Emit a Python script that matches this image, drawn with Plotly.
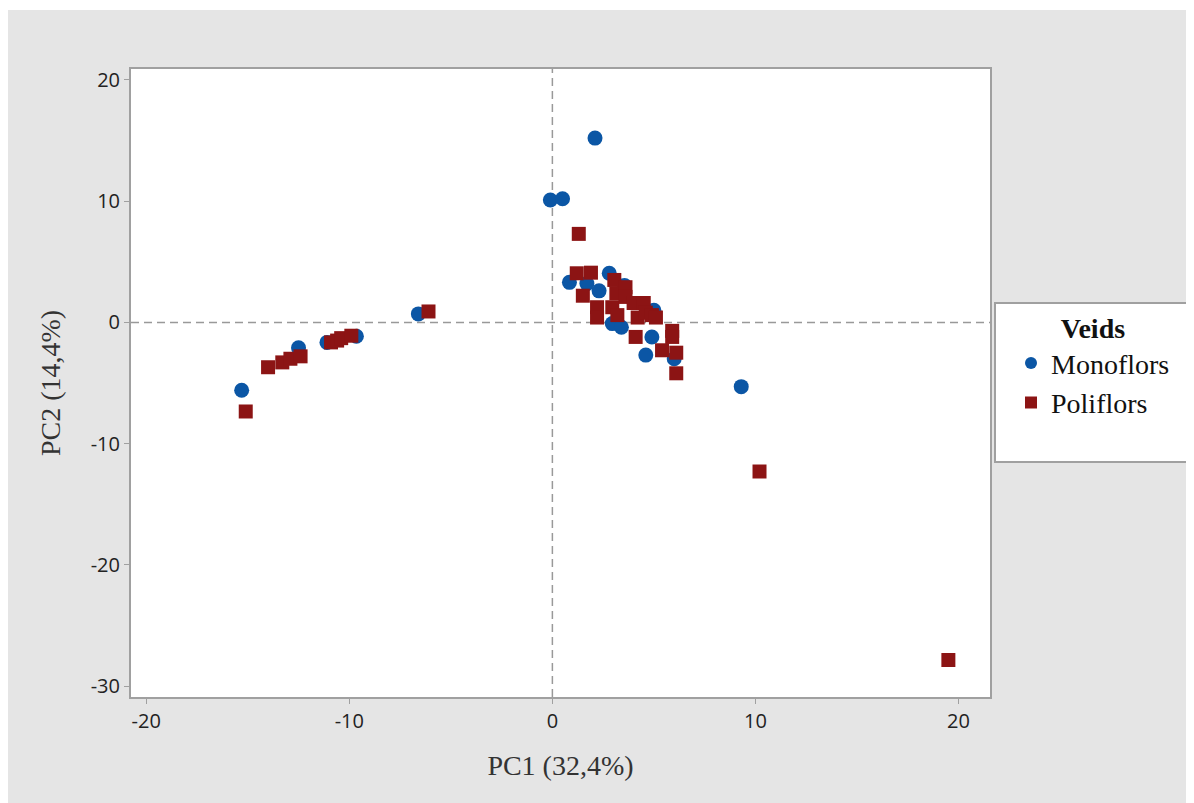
import plotly.graph_objects as go

# ---- data ----
groups = ["Monoflors", "Poliflors"]
mono_pc1 = [-15.3, -12.5, -11.1, -9.65, -6.6, -0.1, 0.5, 2.1, 0.84, 1.7, 2.8, 2.3,
            3.55, 2.95, 3.4, 5.0, 4.9, 4.6, 6.0, 9.3]
mono_pc2 = [-5.6, -2.1, -1.65, -1.15, 0.7, 10.1, 10.2, 15.2, 3.3, 3.2, 4.05, 2.6,
            3.05, -0.1, -0.4, 1.0, -1.2, -2.7, -3.0, -5.3]
poli_pc1 = [-15.1, -14.0, -13.3, -12.9, -12.4, -10.9, -10.6, -10.4, -9.9, -6.1,
            1.3, 1.2, 1.9, 1.5, 2.2, 2.2, 3.05, 3.15, 2.95, 3.2, 3.6, 3.6, 4.0, 4.5,
            4.2, 4.6, 4.9, 5.1, 4.1, 5.9, 5.9, 5.4, 6.1, 6.1, 10.2, 19.5]
poli_pc2 = [-7.35, -3.7, -3.3, -3.0, -2.8, -1.65, -1.5, -1.3, -1.1, 0.9,
            7.3, 4.05, 4.1, 2.2, 1.25, 0.4, 3.5, 2.4, 1.25, 0.6, 2.9, 2.1, 1.6, 1.6,
            0.4, 0.8, 0.6, 0.4, -1.2, -0.7, -1.2, -2.3, -2.5, -4.2, -12.3, -27.85]
x_ticks = [-20, -10, 0, 10, 20]
x_tick_text = ["-20", "-10", "0", "10", "20"]
y_ticks = [-30, -20, -10, 0, 10, 20]
y_tick_text = ["-30", "-20", "-10", "0", "10", "20"]

OFF = 8  # page body margin
W, H = 1194 - OFF, 803 - OFF
L, T = 131 - OFF, 69 - OFF
R = W - (990 - OFF)
B = H - (697 - OFF)
pw, ph = W - L - R, H - T - B

def px(xpage):
    return (xpage - OFF - L) / pw

def py(ypage):
    return (H - B - (ypage - OFF)) / ph

BLUE = "#0b56a5"
RED = "#8c1414"
AXC = "#a0a0a0"
SERIF = "Liberation Serif, Times New Roman, serif"

fig = go.Figure()
fig.add_trace(go.Scatter(x=mono_pc1, y=mono_pc2, mode="markers", name=groups[0],
                         marker=dict(symbol="circle", size=15, color=BLUE)))
fig.add_trace(go.Scatter(x=poli_pc1, y=poli_pc2, mode="markers", name=groups[1],
                         marker=dict(symbol="square", size=14, color=RED)))

shapes = [
    dict(type="rect", xref="paper", yref="paper", x0=px(OFF), x1=px(1194), y0=py(803), y1=py(10),
         fillcolor="#e5e5e5", line=dict(width=0), layer="below"),
    dict(type="rect", xref="paper", yref="paper", x0=0, x1=1, y0=0, y1=1,
         fillcolor="white", line=dict(width=0), layer="below"),
    dict(type="rect", xref="paper", yref="paper", x0=px(995), x1=px(1187), y0=py(462), y1=py(303),
         fillcolor="white", line=dict(color=AXC, width=2), layer="below"),
    dict(type="line", xref="x", yref="paper", x0=0, x1=0, y0=0, y1=1,
         line=dict(color="#999999", width=1.5, dash="8px,5px"), layer="below"),
    dict(type="line", xref="paper", yref="y", x0=0, x1=1, y0=0, y1=0,
         line=dict(color="#999999", width=1.5, dash="8px,5px"), layer="below"),
]

tickfont = dict(family="Open Sans, Noto Sans, sans-serif", size=20, color="#222222")
titlefont = dict(family=SERIF, size=28, color="#333333")

fig.update_layout(
    width=W, height=H,
    margin=dict(l=L, r=R, t=T, b=B, pad=0),
    paper_bgcolor="white", plot_bgcolor="white",
    shapes=shapes,
    showlegend=True,
    legend=dict(
        title=dict(text="<b>Veids</b>", side="top center",
                   font=dict(family=SERIF, size=28, color="#111111")),
        font=dict(family=SERIF, size=28, color="#111111"),
        x=px(1011), y=py(302), xanchor="left", yanchor="top",
        bgcolor="rgba(0,0,0,0)", borderwidth=0, itemsizing="constant",
    ),
    xaxis=dict(range=[-20.75, 21.55], tickvals=x_ticks, ticktext=x_tick_text,
               ticks="outside", ticklen=5, tickcolor=AXC, showline=True, linecolor=AXC,
               linewidth=2, mirror=True, showgrid=False, zeroline=False, tickfont=tickfont,
               ticklabelstandoff=0,
               title=dict(text="PC1 (32,4%)", font=titlefont, standoff=22)),
    yaxis=dict(range=[-30.9, 20.9], tickvals=y_ticks, ticktext=y_tick_text,
               ticks="outside", ticklen=5, tickcolor=AXC, showline=True, linecolor=AXC,
               linewidth=2, mirror=True, showgrid=False, zeroline=False, tickfont=tickfont,
               ticklabelstandoff=0,
               title=dict(text="PC2 (14,4%)", font=titlefont, standoff=22)),
)

fig.write_html("out.html")
